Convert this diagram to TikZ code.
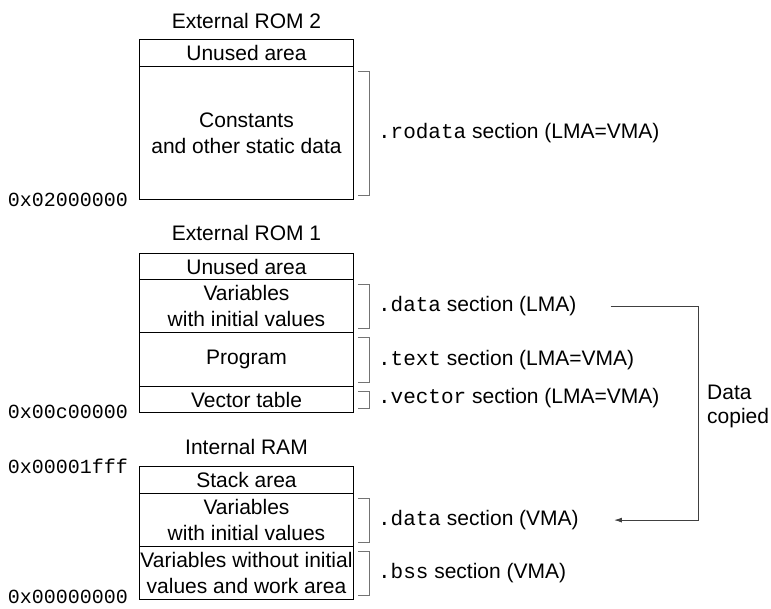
\documentclass[tikz,border=0pt]{standalone}
\usepackage{fontspec}
\setmainfont{Liberation Sans}
\setmonofont{Liberation Mono}
\usetikzlibrary{arrows.meta}
\newcommand\secbracket[1]{\draw[brk] ([xshift=4pt,yshift=-5pt]#1.north east) -- ++(12pt,0) |- ([xshift=4pt,yshift=5pt]#1.south east);}
\begin{document}
\begin{tikzpicture}[x=1pt,y=-1pt,
  every node/.style={font=\fontsize{21}{26}\selectfont, inner sep=0pt},
  sect/.style={draw, line width=1.2pt, minimum width=213.5pt, anchor=north, align=center},
  brk/.style={draw=black!55, line width=1pt},
  lbl/.style={anchor=west},
  addr/.style={anchor=east, font=\fontsize{20}{24}\selectfont\ttfamily},
  flow/.style={draw=black!75, line width=1pt, -{Latex[length=8pt,width=5pt]}}]
\useasboundingbox (0,0) rectangle (771,608);

% External ROM 2
\node (t2) at (246.5,21) {External ROM 2};
\node[sect, minimum height=27pt] (r2u) at (246.5,39) {Unused area};
\node[sect, minimum height=133pt] (r2c) at (246.5,66) {Constants\\and other static data};
\node[addr] (a2) at ([xshift=-11pt]r2c.south west) {0x02000000};
\secbracket{r2c}
\node[lbl] (lrod) at ([xshift=24pt]r2c.east) {\texttt{.rodata} section (LMA=VMA)};

% External ROM 1
\node (t1) at (246.5,233) {External ROM 1};
\node[sect, minimum height=26pt] (r1u) at (246.5,253) {Unused area};
\node[sect, minimum height=53pt] (r1v) at (246.5,279) {Variables\\with initial values};
\node[sect, minimum height=54pt] (r1p) at (246.5,332) {Program};
\node[sect, minimum height=26pt] (r1t) at (246.5,386) {Vector table};
\node[addr] (a1) at ([xshift=-11pt,yshift=1.5pt]r1t.south west) {0x00c00000};
\secbracket{r1v}
\secbracket{r1p}
\secbracket{r1t}
\node[lbl] (ldl) at ([xshift=24pt]r1v.east) {\texttt{.data} section (LMA)};
\node[lbl] (ltx) at ([xshift=24pt]r1p.east) {\texttt{.text} section (LMA=VMA)};
\node[lbl] (lvc) at ([xshift=24pt,yshift=2pt]r1t.east) {\texttt{.vector} section (LMA=VMA)};

% Internal RAM
\node (t0) at (246.5,447) {Internal RAM};
\node[sect, minimum height=27pt] (ru) at (246.5,466) {Stack area};
\node[sect, minimum height=53pt] (rv) at (246.5,493) {Variables\\with initial values};
\node[sect, minimum height=53pt] (rb) at (246.5,546) {Variables without initial\\values and work area};
\node[addr] (a0t) at ([xshift=-11pt]ru.north west) {0x00001fff};
\node[addr] (a0b) at ([xshift=-11pt,yshift=3pt]rb.south west) {0x00000000};
\secbracket{rv}
\secbracket{rb}
\node[lbl] (ldv) at ([xshift=24pt]rv.east) {\texttt{.data} section (VMA)};
\node[lbl] (lbs) at ([xshift=24pt]rb.east) {\texttt{.bss} section (VMA)};

% copy arrow
\coordinate (cpx) at (698,0);
\draw[flow] ([xshift=34pt]ldl.east) -- (ldl.east -| cpx) |- ([xshift=35pt]ldv.east);
\node[anchor=west, align=left, font=\fontsize{21}{23.5}\selectfont] (dc) at (707,406.5) {Data\\copied};
\end{tikzpicture}
\end{document}
